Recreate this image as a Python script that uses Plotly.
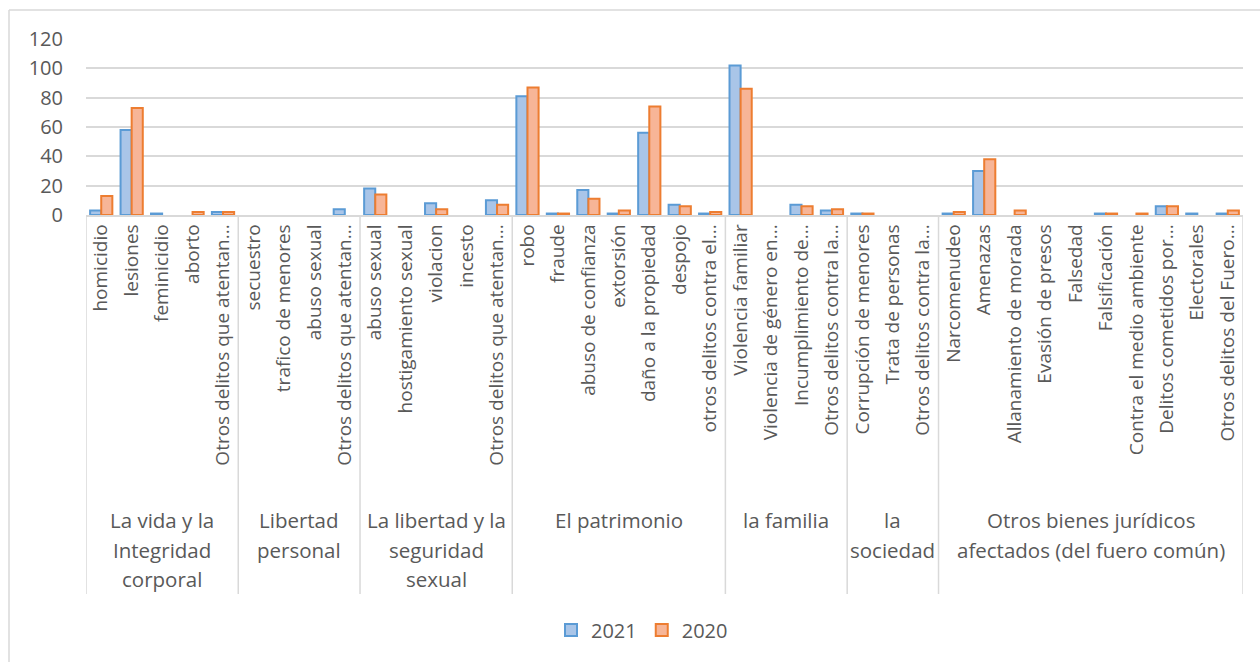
import plotly.graph_objects as go

# Offence groups (legal interest affected) and the crimes inside each group
groups = [
    "La vida y la\nIntegridad\ncorporal",
    "Libertad\npersonal",
    "La libertad y la\nseguridad\nsexual",
    "El patrimonio",
    "la familia",
    "la\nsociedad",
    "Otros bienes jurídicos\nafectados (del fuero común)",
]
group_sizes = [5, 4, 5, 7, 4, 3, 10]

crimes = [
    "homicidio", "lesiones", "feminicidio", "aborto", "Otros delitos que atentan...",
    "secuestro", "trafico de menores", "abuso sexual", "Otros delitos que atentan...",
    "abuso sexual", "hostigamiento sexual", "violacion", "incesto", "Otros delitos que atentan...",
    "robo", "fraude", "abuso de confianza", "extorsión", "daño a la propiedad", "despojo",
    "otros delitos contra el...",
    "Violencia familiar", "Violencia de género en...", "Incumplimiento de...", "Otros delitos contra la...",
    "Corrupción de menores", "Trata de personas", "Otros delitos contra la...",
    "Narcomenudeo", "Amenazas", "Allanamiento de morada", "Evasión de presos", "Falsedad",
    "Falsificación", "Contra el medio ambiente", "Delitos cometidos por...", "Electorales",
    "Otros delitos del Fuero...",
]

values_2021 = [
    3, 58, 1, 0, 2,
    0, 0, 0, 4,
    18, 0, 8, 0, 10,
    81, 1, 17, 1, 56, 7, 1,
    102, 0, 7, 3,
    1, 0, 0,
    1, 30, 0, 0, 0, 1, 0, 6, 1, 1,
]
values_2020 = [
    13, 73, 0, 2, 2,
    0, 0, 0, 0,
    14, 0, 4, 0, 7,
    87, 1, 11, 3, 74, 6, 2,
    86, 0, 6, 4,
    1, 0, 0,
    2, 38, 3, 0, 0, 1, 1, 6, 0, 3,
]

y_ticks = [0, 20, 40, 60, 80, 100, 120]

TEXT = "#595959"
GRID = "#d9d9d9"
FONT = "'Open Sans', Lato, sans-serif"

pos = list(range(len(crimes)))


def outline(values, width=2):
    # empty categories get no outline, so nothing is drawn for them
    return [width if v else 0 for v in values]


fig = go.Figure()
fig.add_trace(go.Bar(
    x=pos, y=values_2021, name="2021",
    marker=dict(color="#a9c5e8", line=dict(color="#5b9bd5", width=outline(values_2021))),
))
fig.add_trace(go.Bar(
    x=pos, y=values_2020, name="2020",
    marker=dict(color="#f7b597", line=dict(color="#ed7d31", width=outline(values_2020))),
))

# Plot area spans pixel rows 39 (value 120) to 215 (value 0)
top_px, base_px = 39, 215
span = base_px - top_px
left_px, right_px = 86, 1243


def py(pixel_row):
    return (base_px - pixel_row) / span


def fx(pixel_col):
    return (pixel_col - left_px) / (right_px - left_px)


shapes = []
annotations = []

# Group separators and group labels below the crime labels
edges = [-0.5]
for n in group_sizes:
    edges.append(edges[-1] + n)
for xe in edges:
    shapes.append(dict(type="line", xref="x", yref="paper", x0=xe, x1=xe,
                       y0=0, y1=py(594), line=dict(color=GRID, width=1.5)))
line_rows = [520, 550, 579]
for g, label in enumerate(groups):
    centre = (edges[g] + edges[g + 1]) / 2
    for k, part in enumerate(label.split("\n")):
        annotations.append(dict(
            x=centre, y=py(line_rows[k]), xref="x", yref="paper",
            text=part, showarrow=False, xanchor="center", yanchor="middle",
            font=dict(family=FONT, size=20.5, color=TEXT),
        ))

# Chart-area frame (left and top edges)
shapes.append(dict(type="line", xref="paper", yref="paper",
                   x0=fx(9), x1=fx(1262), y0=py(10), y1=py(10),
                   line=dict(color=GRID, width=1.5)))
shapes.append(dict(type="line", xref="paper", yref="paper",
                   x0=fx(9), x1=fx(9), y0=py(10), y1=py(664),
                   line=dict(color=GRID, width=1.5)))

fig.update_layout(
    width=1260, height=662,
    margin=dict(l=left_px, r=1260 - right_px, t=top_px, b=662 - base_px, autoexpand=False),
    paper_bgcolor="white", plot_bgcolor="white",
    barmode="group", bargap=0.27, bargroupgap=0.0,
    font=dict(family=FONT, color=TEXT),
    shapes=shapes, annotations=annotations,
    legend=dict(orientation="h", x=fx(642), xanchor="center",
                yref="container", y=1 - 630 / 662, yanchor="middle",
                font=dict(family=FONT, size=20, color=TEXT),
                itemwidth=30, traceorder="normal"),
)
fig.update_xaxes(
    range=[-0.5, len(crimes) - 0.5],
    tickmode="array", tickvals=pos, ticktext=crimes, tickangle=-90,
    tickfont=dict(family=FONT, size=19, color=TEXT),
    showgrid=False, zeroline=False, ticks="",
    showline=True, linecolor=GRID, linewidth=1.5,
)
fig.update_yaxes(
    range=[0, 120], tickmode="array", tickvals=y_ticks,
    tickfont=dict(family=FONT, size=20, color=TEXT),
    showgrid=True, gridcolor=GRID, gridwidth=1.5, zeroline=False,
    showline=False, ticks="", ticklabelstandoff=22,
)

fig.write_html("out.html")
